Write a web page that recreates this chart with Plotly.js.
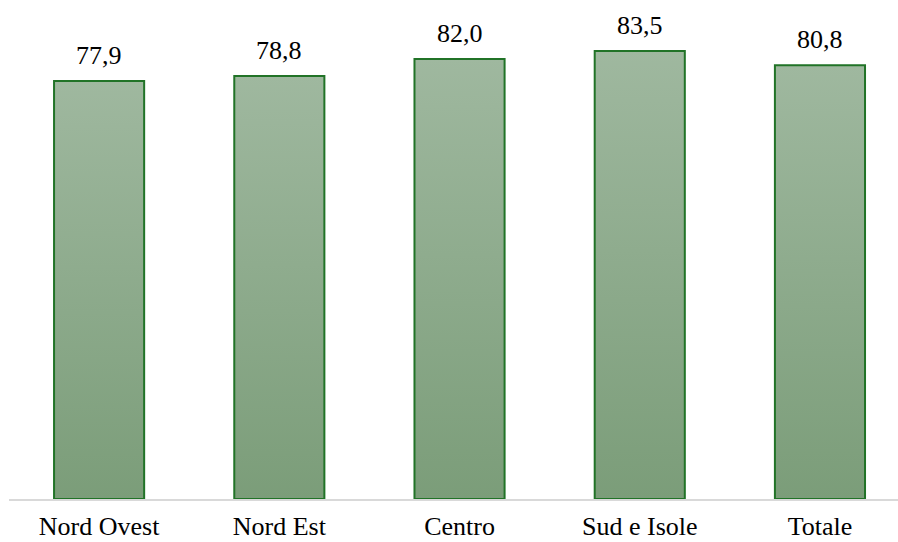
<!DOCTYPE html>
<html>
<head>
<meta charset="utf-8">
<script src="https://cdn.plot.ly/plotly-3.0.1.min.js"></script>
<style>
  html, body { margin: 0; padding: 0; background: #ffffff; }
  #chart { width: 898px; height: 542px; }
</style>
</head>
<body>
<div id="chart"></div>
<script>
// Regional values (percent)
const categories = ['Nord Ovest', 'Nord Est', 'Centro', 'Sud e Isole', 'Totale'];
const values = [77.9, 78.8, 82.0, 83.5, 80.8];
const valueLabels = values.map(v => v.toFixed(1).replace('.', ','));

const serif = "'Liberation Serif', serif";

const trace = {
  type: 'bar',
  x: categories,
  y: values,
  width: 0.5,
  marker: {
    color: '#8caa8b',
    line: { color: '#217327', width: 2 }
  },
  hoverinfo: 'skip'
};

const annotations = categories.map((c, i) => ({
  x: c,
  y: values[i],
  xref: 'x',
  yref: 'y',
  text: valueLabels[i],
  showarrow: false,
  yanchor: 'bottom',
  yshift: 9,
  font: { family: serif, size: 26, color: '#000000' }
}));

const layout = {
  width: 898,
  height: 542,
  margin: { l: 8.5, r: 0, t: 16, b: 42.5 },
  paper_bgcolor: '#ffffff',
  plot_bgcolor: '#ffffff',
  showlegend: false,
  font: { family: serif, color: '#000000' },
  xaxis: {
    type: 'category',
    range: [-0.5, 4.433],
    showline: true,
    linecolor: '#d9d9d9',
    linewidth: 2,
    showgrid: false,
    zeroline: false,
    ticks: '',
    ticklabelstandoff: 3,
    tickfont: { family: serif, size: 26, color: '#000000' }
  },
  yaxis: {
    range: [0, 90],
    visible: false,
    showgrid: false,
    zeroline: false
  },
  annotations: annotations
};

Plotly.newPlot('chart', [trace], layout, { staticPlot: true }).then(gd => {
  // Vertical gradient fill for each bar (lighter at the top, deeper at the base)
  const svg = gd.querySelector('svg.main-svg');
  const ns = 'http://www.w3.org/2000/svg';
  let defs = svg.querySelector('defs');
  if (!defs) { defs = document.createElementNS(ns, 'defs'); svg.insertBefore(defs, svg.firstChild); }
  const grad = document.createElementNS(ns, 'linearGradient');
  grad.setAttribute('id', 'barGrad');
  grad.setAttribute('x1', '0'); grad.setAttribute('y1', '0');
  grad.setAttribute('x2', '0'); grad.setAttribute('y2', '1');
  [['0%', '#9fb89f'], ['100%', '#7b9d79']].forEach(([off, col]) => {
    const s = document.createElementNS(ns, 'stop');
    s.setAttribute('offset', off);
    s.setAttribute('stop-color', col);
    grad.appendChild(s);
  });
  defs.appendChild(grad);
  gd.querySelectorAll('.trace.bars .point path').forEach(p => {
    p.style.fill = 'url(#barGrad)';
    p.style.fillOpacity = 1;
  });
});
</script>
</body>
</html>
